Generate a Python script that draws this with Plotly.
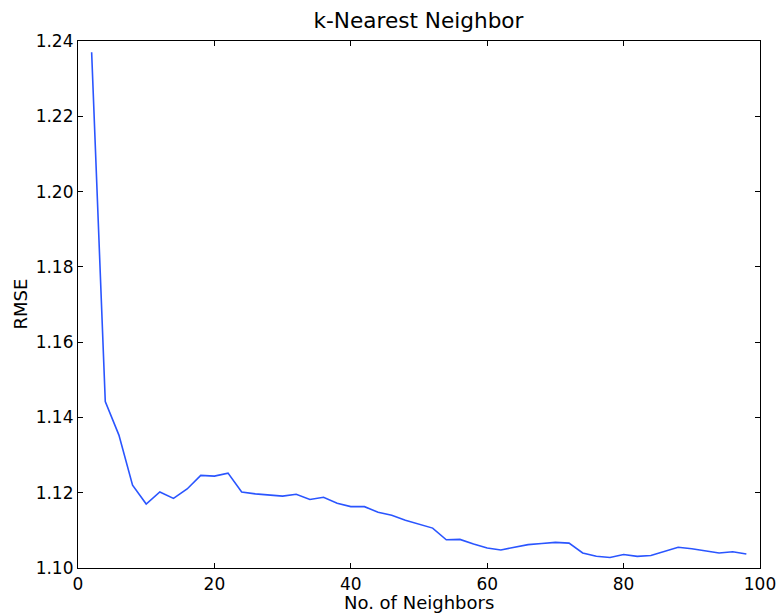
import plotly.graph_objects as go

neighbors = list(range(2, 100, 2))
rmse = [1.2370, 1.1442, 1.1353, 1.1220, 1.1170, 1.1202, 1.1185, 1.1210, 1.1246, 1.1244,
        1.1252, 1.1202, 1.1197, 1.1195, 1.1191, 1.1196, 1.1182, 1.1188, 1.1172, 1.1163,
        1.1163, 1.1148, 1.1140, 1.1127, 1.1116, 1.1106, 1.1075, 1.1076, 1.1064, 1.1053,
        1.1048, 1.1056, 1.1062, 1.1065, 1.1068, 1.1066, 1.1040, 1.1031, 1.1028, 1.1036,
        1.1031, 1.1033, 1.1044, 1.1055, 1.1051, 1.1046, 1.1040, 1.1043, 1.1037]

x_ticks = [0, 20, 40, 60, 80, 100]
y_ticks = [1.10, 1.12, 1.14, 1.16, 1.18, 1.20, 1.22, 1.24]

L, R, T, B = 78, 17, 41, 46
W, H = 777, 614

fig = go.Figure()
fig.add_trace(go.Scatter(x=neighbors, y=rmse, mode="lines",
                         line=dict(color="#2a55ff", width=1.6), showlegend=False))

tick_font = dict(family="DejaVu Sans", size=17, color="black")
label_font = dict(family="DejaVu Sans", size=18, color="black")
axis_common = dict(showline=True, linecolor="black", linewidth=1.2, mirror="ticks",
                   ticks="inside", ticklen=5, tickwidth=1, tickcolor="black",
                   showgrid=False, zeroline=False, automargin=False, tickfont=tick_font)

fig.update_layout(
    width=W, height=H,
    margin=dict(l=L, r=R, t=T, b=B),
    plot_bgcolor="white", paper_bgcolor="white",
    title=dict(text="k-Nearest Neighbor", x=418.5 / W, xanchor="center",
               y=1 - 20 / H, yanchor="middle", automargin=False,
               font=dict(family="DejaVu Sans", size=21.6, color="black")),
    xaxis=dict(range=[0, 100], tickvals=x_ticks, ticktext=[str(t) for t in x_ticks],
               **axis_common),
    yaxis=dict(range=[1.10, 1.24], tickvals=y_ticks, ticktext=[f"{t:.2f}" for t in y_ticks],
               **axis_common),
    annotations=[
        dict(text="No. of Neighbors", xref="paper", yref="paper", x=0.5,
             y=-(602 - (H - B)) / (H - T - B), xanchor="center", yanchor="middle",
             showarrow=False, font=label_font),
        dict(text="RMSE", xref="paper", yref="paper", x=-(L - 20) / (W - L - R),
             y=0.5, xanchor="center", yanchor="middle", textangle=-90,
             showarrow=False, font=label_font),
    ],
)

fig.write_html("out.html", config={"displayModeBar": False})
with open("out.html", "r", encoding="utf-8") as f:
    html = f.read()
html = html.replace("<head>", "<head><style>html,body{margin:0;padding:0;overflow:hidden;}</style>", 1)
with open("out.html", "w", encoding="utf-8") as f:
    f.write(html)
